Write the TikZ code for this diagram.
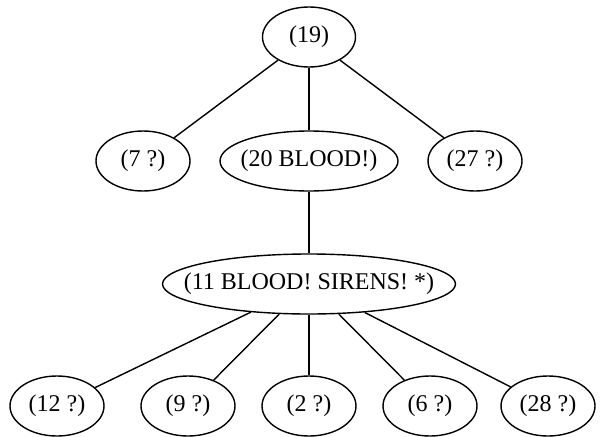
\documentclass[tikz,border=0pt]{standalone}
\usepackage{fontspec}
\setmainfont{Liberation Serif}
\usetikzlibrary{shapes.geometric}
\begin{document}
\begin{tikzpicture}[x=1pt,y=-1pt,
  nd/.style={ellipse, draw, line width=1.4pt, inner sep=0pt, minimum height=60pt, font=\fontsize{24}{27}\selectfont},
  sm/.style={nd, minimum width=94pt},
  ed/.style={line width=1.4pt}]
\useasboundingbox (0,0) rectangle (601,436);
\node[sm, minimum width=93pt] (n19) at (309,37) {\makebox[0pt]{(19)}};
\node[sm] (n7) at (143,161) {\makebox[0pt]{(7 ?)}};
\node[nd, minimum width=178pt] (n20) at (309,161) {\makebox[0pt]{(20 BLOOD!)}};
\node[sm] (n27) at (475,161) {\makebox[0pt]{(27 ?)}};
\node[nd, minimum width=293pt] (n11) at (309,284) {\makebox[0pt]{(11 BLOOD! SIRENS! *)}};
\node[sm] (n12) at (57,406) {\makebox[0pt]{(12 ?)}};
\node[sm] (n9) at (188,406) {\makebox[0pt]{(9 ?)}};
\node[sm] (n2) at (309,406) {\makebox[0pt]{(2 ?)}};
\node[sm] (n6) at (430,406) {\makebox[0pt]{(6 ?)}};
\node[sm] (n28) at (548,406) {\makebox[0pt]{(28 ?)}};
\draw[ed] (n19) -- (n7);
\draw[ed] (n19) -- (n20);
\draw[ed] (n19) -- (n27);
\draw[ed] (n20) -- (n11);
\draw[ed] (n11) -- (n12);
\draw[ed] (n11) -- (n9);
\draw[ed] (n11) -- (n2);
\draw[ed] (n11) -- (n6);
\draw[ed] (n11) -- (n28);
\end{tikzpicture}
\end{document}
